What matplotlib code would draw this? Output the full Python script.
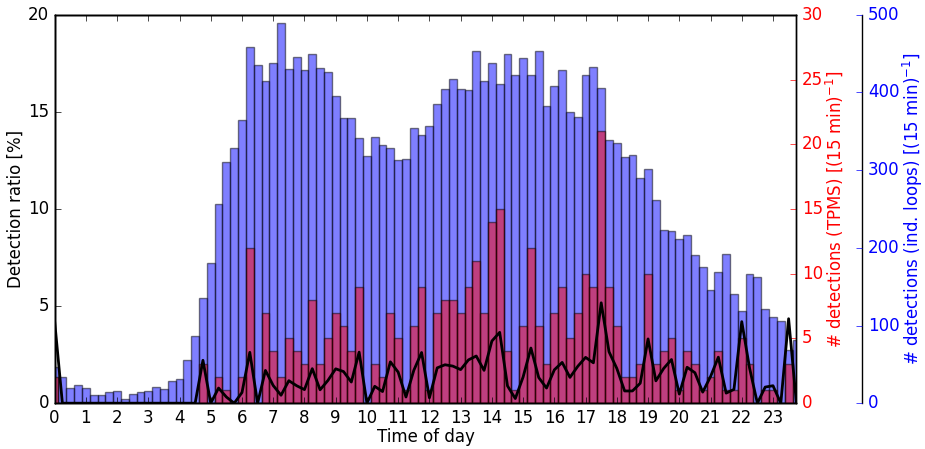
import numpy as np
import matplotlib
matplotlib.use('Agg')
import matplotlib.pyplot as plt

plt.style.use('classic')
plt.rcParams['mathtext.fontset'] = 'dejavusans'

# 15 min bins over the day (bin start times in hours)
hours = np.arange(96) * 0.25

# detections per 15 min from induction loops
loops = [47, 34, 19, 24, 20, 11, 11, 15, 16, 6, 12, 14, 16, 21, 18, 29,
         31, 55, 86, 136, 180, 256, 311, 328, 364, 458, 435, 415, 438, 489, 430, 446,
         429, 449, 432, 427, 395, 367, 367, 342, 318, 343, 332, 329, 313, 315, 354, 345,
         357, 385, 404, 418, 404, 403, 453, 415, 438, 411, 450, 423, 445, 423, 454, 383,
         408, 429, 375, 369, 423, 433, 406, 339, 335, 317, 320, 290, 302, 262, 223, 222,
         211, 216, 191, 175, 146, 169, 192, 140, 119, 166, 163, 121, 111, 106, 69, 82]

# detections per 15 min from TPMS
tpms = [2, 0, 0, 0, 0, 0, 0, 0, 0, 0, 0, 0, 0, 0, 0, 0,
        0, 0, 0, 3, 0, 2, 1, 0, 2, 12, 0, 7, 4, 2, 5, 4,
        3, 8, 3, 5, 7, 6, 4, 9, 0, 3, 2, 7, 5, 1, 6, 9,
        1, 7, 8, 8, 7, 9, 11, 7, 14, 15, 4, 1, 6, 12, 6, 3,
        7, 9, 5, 7, 10, 9, 21, 9, 6, 2, 2, 3, 10, 3, 4, 5,
        1, 4, 3, 1, 2, 4, 1, 1, 5, 3, 0, 1, 1, 0, 3, 0]

# detection ratio in percent
ratio = [4.26, 0, 0, 0, 0, 0, 0, 0, 0, 0, 0, 0, 0, 0, 0, 0,
         0, 0, 0, 2.21, 0, 0.78, 0.32, 0, 0.55, 2.62, 0, 1.69, 0.91, 0.41, 1.16, 0.90,
         0.70, 1.78, 0.69, 1.17, 1.77, 1.63, 1.09, 2.63, 0, 0.87, 0.60, 2.13, 1.60, 0.32, 1.69, 2.61,
         0.28, 1.82, 1.98, 1.91, 1.73, 2.23, 2.43, 1.69, 3.20, 3.65, 0.89, 0.24, 1.35, 2.84, 1.32, 0.78,
         1.72, 2.10, 1.33, 1.90, 2.36, 2.08, 5.17, 2.65, 1.79, 0.63, 0.63, 1.03, 3.31, 1.15, 1.79, 2.25,
         0.47, 1.85, 1.57, 0.57, 1.37, 2.37, 0.52, 0.71, 4.20, 1.81, 0, 0.83, 0.90, 0, 4.35, 0]

fig = plt.figure(figsize=(9.25, 4.49), dpi=100, facecolor='white')
ax = fig.add_axes([0.059, 0.102, 0.802, 0.865])
ax_loop = ax.twinx()
ax_tpms = ax.twinx()
ax_loop.spines['right'].set_position(('axes', 1.089))

ax_loop.bar(hours, loops, width=0.25, align='center', color='blue', alpha=0.5, edgecolor='k')
ax_tpms.bar(hours, tpms, width=0.25, align='center', color='red', alpha=0.5, edgecolor='k')
ax.plot(hours, ratio, 'k-', lw=2)

ax_loop.set_zorder(1)
ax_tpms.set_zorder(2)
ax.set_zorder(3)
ax.patch.set_visible(False)

ax.set_xlim(0, 23.75)
ax.set_xticks(range(24))
ax.set_ylim(0, 20)
ax.set_yticks([0, 5, 10, 15, 20])
ax.set_xlabel('Time of day', labelpad=1)
ax.set_ylabel('Detection ratio [%]', labelpad=2)

ax_tpms.set_ylim(0, 30)
ax_tpms.set_yticks(range(0, 31, 5))
ax_tpms.tick_params(axis='y', colors='red')
ax_tpms.set_ylabel('# detections (TPMS) [(15 min)$^{-1}$]', color='red', labelpad=0)

ax_loop.set_ylim(0, 500)
ax_loop.set_yticks(range(0, 501, 100))
ax_loop.tick_params(axis='y', colors='blue')
ax_loop.set_ylabel('# detections (ind. loops) [(15 min)$^{-1}$]', color='blue', labelpad=1)

fig.savefig('out.png', dpi=100, facecolor='white')
